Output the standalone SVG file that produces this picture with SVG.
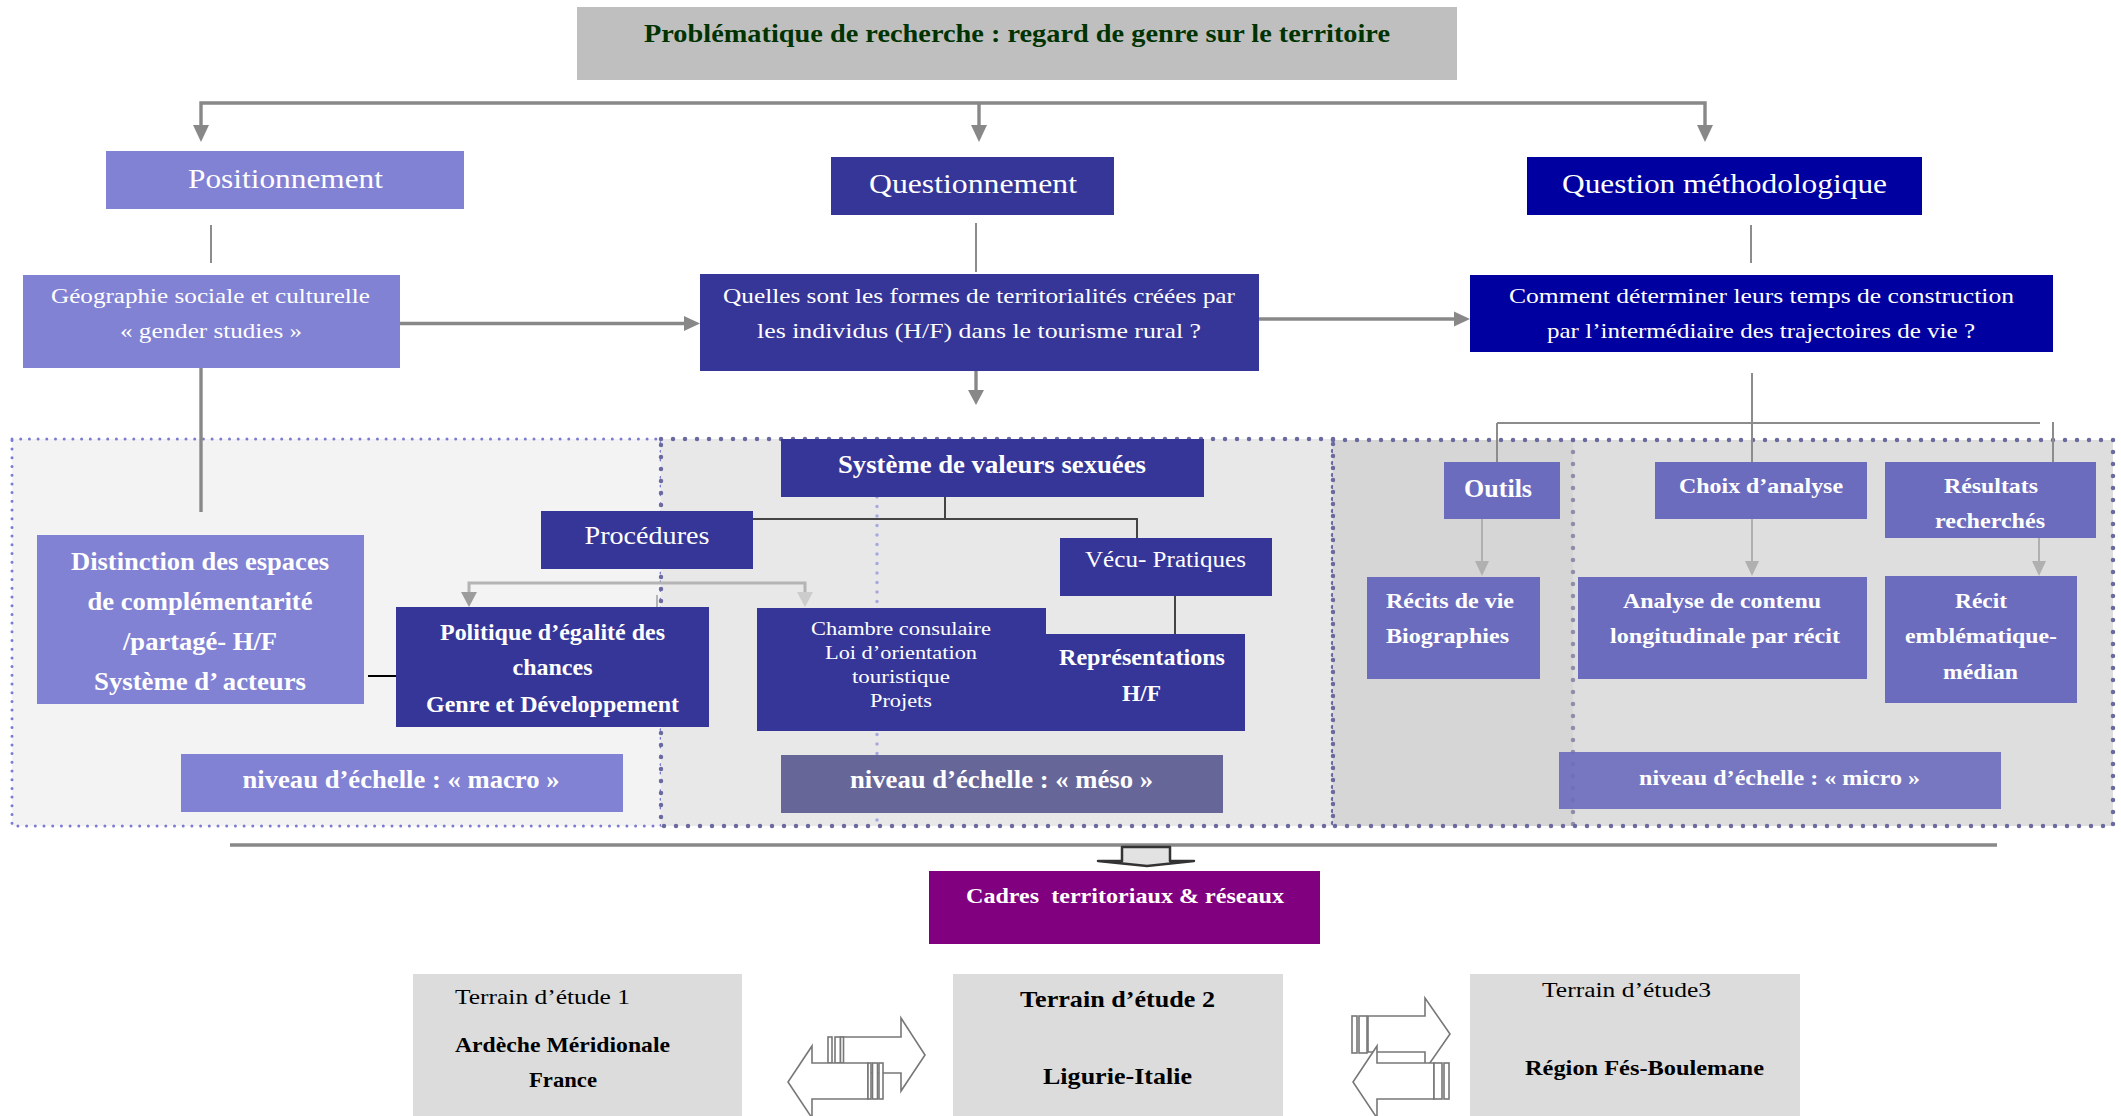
<svg xmlns="http://www.w3.org/2000/svg" width="2121" height="1116" viewBox="0 0 2121 1116">
<style>
text{font-family:"Liberation Serif","Times New Roman",serif;fill:#ffffff}
.m{text-anchor:middle}
.b{font-weight:bold}
.k{fill:#000000}
.lav{fill:#8282d4}
.ind{fill:#363699}
.blu{fill:#0000a0}
.mic{fill:#6c6cbe}
.ter{fill:#dcdcdc}
.ln{fill:none;stroke:#888888;stroke-width:3.4}
.thin{fill:none;stroke:#8c8c8c;stroke-width:2}
.lg{fill:none;stroke:#b0b0b0;stroke-width:2}
.blk{fill:none;stroke:#444444;stroke-width:2}
.hd{fill:#888888}
.hl{fill:#b0b0b0}
.da{fill:#ffffff;stroke:#777777;stroke-width:1.6}
</style>

<g id="regions">
<rect x="12" y="439" width="649" height="387" fill="#f3f3f3" stroke="#7b7bd2" stroke-width="3" stroke-dasharray="0 8.7" stroke-linecap="round"/>
<rect x="661" y="439" width="672" height="387" fill="#e8e8e8" stroke="#6a6aa0" stroke-width="4.5" stroke-dasharray="0 12" stroke-linecap="round"/>
<rect x="1333" y="440" width="780" height="386" fill="#d6d6d6"/>
<rect x="1573" y="440" width="540" height="386" fill="#dedede"/>
<line x1="1573" y1="440" x2="1573" y2="826" stroke="#8e8ea8" stroke-width="4.5" stroke-dasharray="0 12" stroke-linecap="round"/>
<rect x="1333" y="440" width="780" height="386" fill="none" stroke="#6a6aa0" stroke-width="4.5" stroke-dasharray="0 12" stroke-linecap="round"/>
<line x1="877" y1="497" x2="877" y2="826" stroke="#a8a8e0" stroke-width="3.5" stroke-dasharray="0 9.5" stroke-linecap="round"/>
</g>

<g id="connectors">
<path class="ln" d="M201,126 V103 H1705 V126 M979,103 V126"/>
<polygon class="hd" points="193,125 209,125 201,142"/>
<polygon class="hd" points="971,125 987,125 979,142"/>
<polygon class="hd" points="1697,125 1713,125 1705,142"/>
<path class="thin" d="M211,225 V263 M976,223 V272 M1751,225 V263"/>
<path class="ln" d="M400,323.5 H686"/>
<polygon class="hd" points="684,316 684,331 700,323.5"/>
<path class="ln" d="M1259,319 H1456"/>
<polygon class="hd" points="1454,311.5 1454,326.5 1470,319"/>
<path class="ln" d="M976,371 V391"/>
<polygon class="hd" points="968,390 984,390 976,405"/>
<path class="ln" d="M201,368 V512" stroke="#999999"/>
<path class="thin" d="M1752,373 V462 M1497,423 H2040 M1497,423 V462 M2053,422 V462" stroke="#9a9a9a"/>
<path class="lg" d="M1482,519 V562 M1752,519 V562 M2039,538 V562"/>
<polygon class="hl" points="1475,561 1489,561 1482,576"/>
<polygon class="hl" points="1745,561 1759,561 1752,576"/>
<polygon class="hl" points="2032,561 2046,561 2039,576"/>
<path class="blk" d="M945,497 V519 M753,519 H1137 V538 M1175,596 V634"/>
<path d="M368,676 H408" stroke="#000000" stroke-width="2"/>
<path d="M469,593 V583 H805 V593" fill="none" stroke="#b4b4b4" stroke-width="3"/>
<path d="M657,595 V607" fill="none" stroke="#b4b4b4" stroke-width="2"/>
<polygon fill="#9c9c9c" points="461,592 477,592 469,607"/>
<polygon fill="#cccccc" points="797,592 813,592 805,607"/>
<path d="M230,845 H1997" stroke="#888888" stroke-width="3.5"/>
<polygon points="1122,847 1170,847 1170,861 1194,861 1147,866 1098,861 1122,861" fill="#e2e2e2" stroke="#333333" stroke-width="2.5" stroke-linejoin="round"/>
<g id="double-arrow-1">
<polygon class="da" points="843,1037 901,1037 901,1018 925,1055 901,1091 901,1073 843,1073"/>
<rect class="da" x="828" y="1037" width="4" height="26"/>
<rect class="da" x="835" y="1037" width="5.5" height="26"/>
<rect class="da" x="840.5" y="1037" width="3" height="26"/>
<polygon class="da" points="868,1063 812,1063 812,1046 788,1082 812,1118 812,1099 868,1099"/>
<rect class="da" x="868" y="1063" width="3" height="36"/>
<rect class="da" x="872.5" y="1063" width="5" height="36"/>
<rect class="da" x="879" y="1063" width="4" height="36"/>
</g>
<g id="double-arrow-2">
<polygon class="da" points="1368,1016 1425,1016 1425,998 1450,1034 1425,1070 1425,1052 1368,1052"/>
<rect class="da" x="1352" y="1016" width="5" height="37"/>
<rect class="da" x="1359" y="1016" width="8" height="37"/>
<polygon class="da" points="1434,1063 1377,1063 1377,1046 1353,1082 1377,1118 1377,1099 1434,1099"/>
<rect class="da" x="1434" y="1063" width="8" height="36"/>
<rect class="da" x="1444" y="1063" width="5" height="36"/>
</g>
</g>

<g id="title">
<rect x="577" y="7" width="880" height="73" fill="#bfbfbf"/>
<text class="m b" x="1017" y="42" font-size="26" textLength="746" lengthAdjust="spacingAndGlyphs" style="fill:#003300">Problématique de recherche : regard de genre sur le territoire</text>
</g>

<g id="positionnement">
<rect class="lav" x="106" y="151" width="358" height="58"/>
<text class="m" x="285.5" y="188" font-size="28" textLength="195" lengthAdjust="spacingAndGlyphs">Positionnement</text>
</g>
<g id="questionnement">
<rect class="ind" x="831" y="157" width="283" height="58"/>
<text class="m" x="973" y="193" font-size="28" textLength="208" lengthAdjust="spacingAndGlyphs">Questionnement</text>
</g>
<g id="question-methodologique">
<rect class="blu" x="1527" y="157" width="395" height="58"/>
<text class="m" x="1724.5" y="193" font-size="28" textLength="325" lengthAdjust="spacingAndGlyphs">Question méthodologique</text>
</g>

<g id="geographie">
<rect class="lav" x="23" y="275" width="377" height="93"/>
<text class="m" x="210.5" y="303" font-size="22" textLength="319" lengthAdjust="spacingAndGlyphs">Géographie sociale et culturelle</text>
<text class="m" x="211" y="338" font-size="22" textLength="182" lengthAdjust="spacingAndGlyphs">« gender studies »</text>
</g>
<g id="quelles">
<rect class="ind" x="700" y="274" width="559" height="97"/>
<text class="m" x="979" y="303" font-size="22" textLength="512" lengthAdjust="spacingAndGlyphs">Quelles sont les formes de territorialités créées par</text>
<text class="m" x="979" y="338" font-size="22" textLength="444" lengthAdjust="spacingAndGlyphs">les individus (H/F) dans le tourisme rural ?</text>
</g>
<g id="comment">
<rect class="blu" x="1470" y="275" width="583" height="77"/>
<text class="m" x="1761.5" y="303" font-size="22" textLength="505" lengthAdjust="spacingAndGlyphs">Comment déterminer leurs temps de construction</text>
<text class="m" x="1761" y="338" font-size="22" textLength="428" lengthAdjust="spacingAndGlyphs">par l’intermédiaire des trajectoires de vie ?</text>
</g>

<g id="distinction">
<rect class="lav" x="37" y="535" width="327" height="169"/>
<text class="m b" x="200" y="570" font-size="25" textLength="258" lengthAdjust="spacingAndGlyphs">Distinction des espaces</text>
<text class="m b" x="200" y="610" font-size="25" textLength="225" lengthAdjust="spacingAndGlyphs">de complémentarité</text>
<text class="m b" x="200" y="650" font-size="25" textLength="154" lengthAdjust="spacingAndGlyphs">/partagé- H/F</text>
<text class="m b" x="200" y="690" font-size="25" textLength="212" lengthAdjust="spacingAndGlyphs">Système d’ acteurs</text>
</g>
<g id="procedures">
<rect class="ind" x="541" y="511" width="212" height="58"/>
<text class="m" x="647" y="544" font-size="25" textLength="125" lengthAdjust="spacingAndGlyphs">Procédures</text>
</g>
<g id="politique">
<rect class="ind" x="396" y="607" width="313" height="120"/>
<text class="m b" x="552.5" y="640" font-size="23" textLength="225" lengthAdjust="spacingAndGlyphs">Politique d’égalité des</text>
<text class="m b" x="552.5" y="675" font-size="23" textLength="80" lengthAdjust="spacingAndGlyphs">chances</text>
<text class="m b" x="552.5" y="712" font-size="23" textLength="253" lengthAdjust="spacingAndGlyphs">Genre et Développement</text>
</g>
<g id="systeme">
<rect class="ind" x="781" y="439" width="423" height="58"/>
<text class="m b" x="992" y="473" font-size="25" textLength="308" lengthAdjust="spacingAndGlyphs">Système de valeurs sexuées</text>
</g>
<g id="vecu">
<rect class="ind" x="1060" y="538" width="212" height="58"/>
<text class="m" x="1165.5" y="567" font-size="23" textLength="161" lengthAdjust="spacingAndGlyphs">Vécu- Pratiques</text>
</g>
<g id="chambre">
<rect class="ind" x="757" y="608" width="289" height="123"/>
<text class="m" x="901" y="635" font-size="19" textLength="180" lengthAdjust="spacingAndGlyphs">Chambre consulaire</text>
<text class="m" x="901" y="659" font-size="19" textLength="152" lengthAdjust="spacingAndGlyphs">Loi d’orientation</text>
<text class="m" x="901" y="683" font-size="19" textLength="98" lengthAdjust="spacingAndGlyphs">touristique</text>
<text class="m" x="901" y="707" font-size="19" textLength="62" lengthAdjust="spacingAndGlyphs">Projets</text>
</g>
<g id="representations">
<rect class="ind" x="1045" y="634" width="200" height="97"/>
<text class="m b" x="1142" y="665" font-size="23" textLength="166" lengthAdjust="spacingAndGlyphs">Représentations</text>
<text class="m b" x="1141.5" y="701" font-size="23" textLength="39" lengthAdjust="spacingAndGlyphs">H/F</text>
</g>
<g id="niveau-macro">
<rect class="lav" x="181" y="754" width="442" height="58"/>
<text class="m b" x="401" y="788" font-size="25" textLength="317" lengthAdjust="spacingAndGlyphs">niveau d’échelle : « macro »</text>
</g>
<g id="niveau-meso">
<rect x="781" y="755" width="442" height="58" fill="#666699"/>
<text class="m b" x="1001.5" y="788" font-size="25" textLength="303" lengthAdjust="spacingAndGlyphs">niveau d’échelle : « méso »</text>
</g>

<g id="outils">
<rect class="mic" x="1444" y="462" width="116" height="57"/>
<text class="m b" x="1498" y="497" font-size="25" textLength="68" lengthAdjust="spacingAndGlyphs">Outils</text>
</g>
<g id="recits">
<rect class="mic" x="1367" y="577" width="173" height="102"/>
<text class="b" x="1386" y="608" font-size="22" textLength="128" lengthAdjust="spacingAndGlyphs">Récits de vie</text>
<text class="b" x="1386" y="643" font-size="22" textLength="123" lengthAdjust="spacingAndGlyphs">Biographies</text>
</g>
<g id="choix">
<rect class="mic" x="1655" y="462" width="212" height="57"/>
<text class="m b" x="1761" y="493" font-size="22" textLength="164" lengthAdjust="spacingAndGlyphs">Choix d’analyse</text>
</g>
<g id="analyse">
<rect class="mic" x="1578" y="577" width="289" height="102"/>
<text class="m b" x="1722" y="608" font-size="22" textLength="198" lengthAdjust="spacingAndGlyphs">Analyse de contenu</text>
<text class="m b" x="1725" y="643" font-size="22" textLength="230" lengthAdjust="spacingAndGlyphs">longitudinale par récit</text>
</g>
<g id="resultats">
<rect class="mic" x="1885" y="462" width="211" height="76"/>
<text class="m b" x="1991" y="493" font-size="22" textLength="94" lengthAdjust="spacingAndGlyphs">Résultats</text>
<text class="m b" x="1990" y="528" font-size="22" textLength="110" lengthAdjust="spacingAndGlyphs">recherchés</text>
</g>
<g id="recit-emblematique">
<rect class="mic" x="1885" y="576" width="192" height="127"/>
<text class="m b" x="1981" y="608" font-size="22" textLength="52" lengthAdjust="spacingAndGlyphs">Récit</text>
<text class="m b" x="1981" y="643" font-size="22" textLength="152" lengthAdjust="spacingAndGlyphs">emblématique-</text>
<text class="m b" x="1980.5" y="679" font-size="22" textLength="75" lengthAdjust="spacingAndGlyphs">médian</text>
</g>
<g id="niveau-micro">
<rect class="mic" x="1559" y="752" width="442" height="57" fill-opacity="0.9"/>
<text class="m b" x="1779.5" y="785" font-size="22" textLength="281" lengthAdjust="spacingAndGlyphs">niveau d’échelle : « micro »</text>
</g>

<g id="cadres">
<rect x="929" y="871" width="391" height="73" fill="#800080"/>
<text class="m b" x="1125" y="903" font-size="21" textLength="318" lengthAdjust="spacingAndGlyphs" xml:space="preserve">Cadres  territoriaux &amp; réseaux</text>
</g>

<g id="terrain-1">
<rect class="ter" x="413" y="974" width="329" height="142"/>
<text class="k" x="455" y="1004" font-size="22" textLength="175" lengthAdjust="spacingAndGlyphs">Terrain d’étude 1</text>
<text class="k b" x="455" y="1052" font-size="21" textLength="215" lengthAdjust="spacingAndGlyphs">Ardèche Méridionale</text>
<text class="k b m" x="563" y="1087" font-size="21" textLength="68" lengthAdjust="spacingAndGlyphs">France</text>
</g>
<g id="terrain-2">
<rect class="ter" x="953" y="974" width="330" height="142"/>
<text class="k b" x="1020" y="1007" font-size="23" textLength="195" lengthAdjust="spacingAndGlyphs">Terrain d’étude 2</text>
<text class="k b" x="1043" y="1084" font-size="23" textLength="149" lengthAdjust="spacingAndGlyphs">Ligurie-Italie</text>
</g>
<g id="terrain-3">
<rect class="ter" x="1470" y="974" width="330" height="142"/>
<text class="k" x="1542" y="997" font-size="22" textLength="169" lengthAdjust="spacingAndGlyphs">Terrain d’étude3</text>
<text class="k b" x="1525" y="1075" font-size="21" textLength="239" lengthAdjust="spacingAndGlyphs">Région Fés-Boulemane</text>
</g>
</svg>
